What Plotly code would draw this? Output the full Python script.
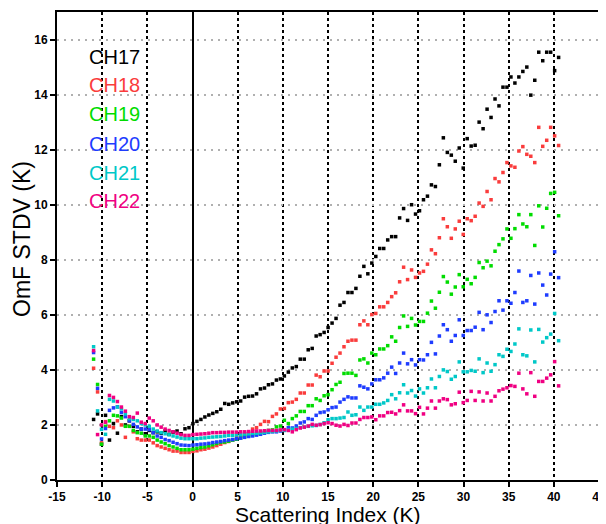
import plotly.graph_objects as go

# Scattering index bin centres (K)
scat_index = [
    -10.95, -10.51, -10.07, -9.63, -9.19, -8.75, -8.31, -7.87, -7.43, -6.99,
    -6.55, -6.11, -5.67, -5.23, -4.79, -4.35, -3.91, -3.47, -3.03, -2.59,
    -2.15, -1.71, -1.27, -0.83, -0.39, 0.05, 0.49, 0.93, 1.37, 1.81,
    2.25, 2.69, 3.13, 3.57, 4.01, 4.45, 4.89, 5.33, 5.77, 6.21,
    6.65, 7.09, 7.53, 7.97, 8.41, 8.85, 9.29, 9.73, 10.17, 10.61,
    11.05, 11.49, 11.93, 12.37, 12.81, 13.25, 13.69, 14.13, 14.57, 15.01,
    15.45, 15.89, 16.33, 16.77, 17.21, 17.65, 18.09, 18.53, 18.97, 19.41,
    19.85, 20.29, 20.73, 21.17, 21.61, 22.05, 22.49, 22.93, 23.37, 23.81,
    24.25, 24.69, 25.13, 25.57, 26.01, 26.45, 26.89, 27.33, 27.77, 28.21,
    28.65, 29.09, 29.53, 29.97, 30.41, 30.85, 31.29, 31.73, 32.17, 32.61,
    33.05, 33.49, 33.93, 34.37, 34.81, 35.25, 35.69, 36.13, 36.57, 37.01,
    37.45, 37.89, 38.33, 38.77, 39.21, 39.65, 40.09, 40.53,
]

ch17 = [
    2.2, 2.4, 1.3, 2.35, 1.45, 2.05, 1.7, 2.3, 2.0, 2.15,
    1.95, 1.75, 1.85, 1.68, 1.8, 1.72, 1.75, 1.7, 1.78, 1.66,
    1.74, 1.78, 1.68, 1.86, 1.9, 2.05, 2.13, 2.2, 2.29, 2.36,
    2.42, 2.48, 2.57, 2.78, 2.75, 2.8, 2.84, 2.87, 3.01, 3.04,
    3.05, 3.13, 3.31, 3.34, 3.46, 3.49, 3.63, 3.67, 3.78, 3.92,
    4.07, 4.12, 4.39, 4.39, 4.73, 4.78, 5.23, 5.28, 5.36, 5.54,
    5.7, 5.87, 6.35, 6.45, 6.81, 6.81, 6.96, 7.4, 7.76, 7.49,
    7.88, 8.12, 8.41, 8.41, 8.72, 8.84, 8.84, 9.52, 9.86, 9.43,
    10.0, 9.66, 9.78, 10.18, 10.31, 10.72, 10.66, 11.45, 12.43, 11.9,
    11.8, 11.58, 12.06, 11.33, 12.4, 12.13, 12.16, 13.0, 12.76, 13.47,
    13.17, 13.84, 13.59, 14.27, 14.27, 14.64, 14.42, 14.64, 14.84, 15.0,
    13.98, 14.52, 15.54, 15.23, 15.54, 15.54, 14.87, 15.35,
]

ch18 = [
    4.06, 3.2, 1.35, 2.12, 1.95, 1.9, 2.15, 2.0, 1.55, 1.95,
    1.75, 1.5, 1.45, 1.45, 1.45, 1.35, 1.25, 1.2, 1.15, 1.1,
    1.05, 1.05, 1.0, 1.0, 1.0, 1.04, 1.06, 1.1, 1.12, 1.16,
    1.2, 1.25, 1.3, 1.36, 1.4, 1.46, 1.55, 1.6, 1.68, 1.72,
    1.85, 1.9, 2.02, 2.13, 2.12, 2.31, 2.4, 2.58, 2.6, 2.81,
    2.83, 2.93, 3.16, 3.16, 3.45, 3.45, 3.81, 3.75, 3.96, 3.96,
    4.24, 4.46, 4.61, 4.84, 5.04, 5.08, 5.08, 5.64, 5.78, 5.64,
    6.01, 6.05, 6.29, 6.29, 6.45, 6.66, 6.8, 7.2, 7.73, 7.28,
    7.63, 7.36, 7.52, 7.58, 7.84, 8.36, 8.22, 8.8, 9.49, 9.2,
    8.78, 9.12, 9.4, 8.92, 9.49, 9.42, 9.58, 10.06, 9.94, 10.48,
    10.18, 10.95, 10.83, 11.17, 11.53, 11.41, 11.36, 11.95, 12.11, 11.83,
    11.76, 11.53, 12.81, 12.12, 12.34, 12.81, 12.5, 12.15,
]

ch19 = [
    4.39, 3.47, 1.3, 1.95, 2.15, 2.35, 2.33, 2.25, 1.95, 1.95,
    1.8, 1.72, 1.7, 1.6, 1.6, 1.55, 1.45, 1.38, 1.32, 1.25,
    1.2, 1.15, 1.1, 1.1, 1.1, 1.12, 1.15, 1.18, 1.2, 1.24,
    1.28, 1.33, 1.37, 1.38, 1.41, 1.45, 1.48, 1.53, 1.58, 1.6,
    1.63, 1.66, 1.69, 1.74, 1.8, 1.82, 1.93, 1.96, 2.17, 2.05,
    2.23, 2.33, 2.49, 2.49, 2.7, 2.7, 2.95, 2.89, 3.06, 3.1,
    3.28, 3.47, 3.55, 3.87, 3.88, 3.88, 3.8, 4.36, 4.4, 4.25,
    4.61, 4.55, 4.76, 4.76, 4.88, 5.2, 5.04, 5.54, 5.96, 5.58,
    5.87, 5.63, 5.76, 5.76, 6.06, 6.5, 6.24, 6.82, 7.39, 7.19,
    6.75, 7.01, 7.46, 7.02, 7.29, 7.13, 7.36, 7.9, 7.71, 7.95,
    7.78, 8.31, 8.55, 8.76, 9.12, 8.78, 9.13, 9.64, 9.3, 9.2,
    9.64, 8.52, 9.96, 9.19, 9.87, 10.41, 10.45, 9.6,
]

ch20 = [
    4.63, 3.33, 1.49, 1.87, 2.53, 2.62, 2.66, 2.45, 2.3, 2.15,
    2.02, 1.93, 1.85, 1.85, 1.83, 1.72, 1.6, 1.55, 1.47, 1.43,
    1.37, 1.32, 1.27, 1.26, 1.25, 1.27, 1.28, 1.3, 1.31, 1.33,
    1.36, 1.38, 1.4, 1.43, 1.45, 1.47, 1.5, 1.52, 1.55, 1.58,
    1.6, 1.63, 1.66, 1.7, 1.73, 1.75, 1.75, 1.78, 1.81, 1.9,
    1.89, 1.96, 2.07, 2.11, 2.23, 2.2, 2.35, 2.45, 2.47, 2.55,
    2.63, 2.65, 2.83, 2.93, 3.02, 2.98, 2.98, 3.42, 3.37, 3.31,
    3.49, 3.64, 3.64, 3.71, 3.88, 4.1, 3.87, 4.25, 4.61, 4.22,
    4.37, 4.18, 4.37, 4.36, 4.55, 5.0, 4.58, 5.23, 5.64, 5.46,
    5.04, 5.25, 5.82, 5.25, 5.43, 5.43, 5.55, 6.09, 5.46, 6.0,
    5.72, 6.12, 6.51, 6.17, 6.51, 6.42, 6.81, 7.59, 6.45, 6.51,
    7.43, 6.39, 7.52, 7.08, 6.72, 7.48, 8.29, 7.35,
]

ch21 = [
    4.84, 2.51, 1.84, 1.66, 2.93, 2.87, 2.65, 2.58, 2.4, 2.23,
    2.2, 2.15, 2.05, 2.0, 1.95, 1.85, 1.78, 1.72, 1.68, 1.64,
    1.6, 1.56, 1.52, 1.5, 1.5, 1.5, 1.5, 1.52, 1.53, 1.55,
    1.56, 1.57, 1.58, 1.6, 1.62, 1.62, 1.64, 1.65, 1.67, 1.68,
    1.7, 1.7, 1.72, 1.73, 1.75, 1.76, 1.78, 1.8, 1.8, 1.82,
    1.85, 1.87, 1.9, 1.92, 1.95, 1.97, 1.98, 2.02, 2.08, 2.19,
    2.23, 2.23, 2.25, 2.27, 2.47, 2.35, 2.37, 2.65, 2.53, 2.65,
    2.65, 2.75, 2.75, 2.8, 2.89, 3.1, 2.95, 3.17, 3.46, 3.16,
    3.25, 3.05, 3.31, 3.16, 3.35, 3.67, 3.35, 3.76, 4.0, 3.94,
    3.66, 3.76, 4.29, 3.93, 3.93, 3.98, 3.95, 4.4, 3.9, 4.25,
    3.95, 4.19, 4.55, 4.49, 4.75, 4.67, 4.94, 5.49, 4.55, 4.51,
    5.45, 4.29, 5.47, 5.01, 5.17, 5.3, 6.05, 5.06,
]

ch22 = [
    4.7, 1.65, 2.0, 2.1, 3.07, 3.0, 2.85, 2.65, 2.5, 2.3,
    2.27, 2.43, 2.1, 2.05, 2.25, 2.15, 2.0, 1.92, 1.85, 1.8,
    1.75, 1.7, 1.65, 1.62, 1.62, 1.65, 1.66, 1.67, 1.68, 1.7,
    1.72, 1.72, 1.73, 1.73, 1.74, 1.74, 1.74, 1.75, 1.75, 1.76,
    1.77, 1.78, 1.78, 1.79, 1.8, 1.8, 1.8, 1.82, 1.83, 1.8,
    1.75, 1.83, 1.89, 1.92, 1.96, 2.02, 1.99, 2.01, 2.05, 2.08,
    2.05, 1.99, 1.96, 2.02, 1.98, 2.07, 2.07, 2.2, 2.27, 2.27,
    2.29, 2.19, 2.33, 2.33, 2.45, 2.46, 2.4, 2.52, 2.73, 2.51,
    2.51, 2.41, 2.64, 2.4, 2.61, 2.87, 2.61, 2.87, 2.95, 2.92,
    2.73, 2.77, 3.19, 2.81, 2.89, 3.22, 2.89, 3.2, 2.87, 3.16,
    2.87, 3.04, 3.24, 3.3, 3.35, 3.43, 3.4, 3.88, 3.31, 3.13,
    3.9, 3.04, 3.58, 3.58, 3.7, 3.82, 4.3, 3.42,
]

channel_names = ["CH17", "CH18", "CH19", "CH20", "CH21", "CH22"]
channel_values = [ch17, ch18, ch19, ch20, ch21, ch22]
channel_colors = ["#000000", "#fa3c3c", "#00dc00", "#1e3cff", "#00c8c8", "#f00082"]

x_ticks = [-15, -10, -5, 0, 5, 10, 15, 20, 25, 30, 35, 40, 45]
y_ticks = [0, 2, 4, 6, 8, 10, 12, 14, 16]

fig = go.Figure()
for name, vals, col in zip(channel_names, channel_values, channel_colors):
    fig.add_trace(go.Scatter(
        x=scat_index, y=vals, mode="markers", name=name,
        marker=dict(symbol="square", size=3.5, color=col, line=dict(width=0)),
        showlegend=False,
    ))

# legend drawn as coloured text labels
legend_y = [0.904, 0.843, 0.781, 0.719, 0.657, 0.596]
for name, col, ly in zip(channel_names, channel_colors, legend_y):
    fig.add_annotation(
        text=name, x=0.0554, y=ly, xref="paper", yref="paper",
        xanchor="left", yanchor="middle", showarrow=False,
        font=dict(family="Liberation Sans", size=20, color=col),
    )

fig.add_annotation(
    text="Scattering Index (K)", x=0.5, y=-0.0745, xref="paper", yref="paper",
    xanchor="center", yanchor="middle", showarrow=False,
    font=dict(family="Liberation Sans", size=21, color="#000000"),
)
fig.add_annotation(
    text="OmF STDV (K)", x=-0.0646, y=0.515, xref="paper", yref="paper",
    xanchor="center", yanchor="middle", showarrow=False, textangle=-90,
    font=dict(family="Liberation Sans", size=23, color="#000000"),
)

tickfont = dict(family="Liberation Sans", size=12, color="#000000", weight="bold")

# page body has an 8px default margin, so the figure is offset for it
fig.update_layout(
    width=606, height=516,
    margin=dict(l=49, r=15, t=2, b=44),
    paper_bgcolor="white", plot_bgcolor="white",
    showlegend=False,
    xaxis=dict(
        range=[-15, 45], tickmode="array", tickvals=x_ticks,
        ticktext=[str(v) for v in x_ticks],
        ticks="outside", ticklen=5, tickwidth=2, tickcolor="black",
        showline=True, linewidth=2, linecolor="black", mirror=True,
        showgrid=True, gridcolor="black", gridwidth=2, griddash="dot",
        zeroline=True, zerolinecolor="black", zerolinewidth=2,
        tickfont=tickfont,
    ),
    yaxis=dict(
        range=[0, 17], tickmode="array", tickvals=y_ticks,
        ticktext=[str(v) for v in y_ticks],
        ticks="outside", ticklen=5, tickwidth=2, tickcolor="black",
        showline=True, linewidth=2, linecolor="black", mirror=True,
        showgrid=True, gridcolor="#b0b0b0", gridwidth=1.5, griddash="2px,5px",
        zeroline=False,
        tickfont=tickfont,
    ),
)

fig.write_html("out.html")
